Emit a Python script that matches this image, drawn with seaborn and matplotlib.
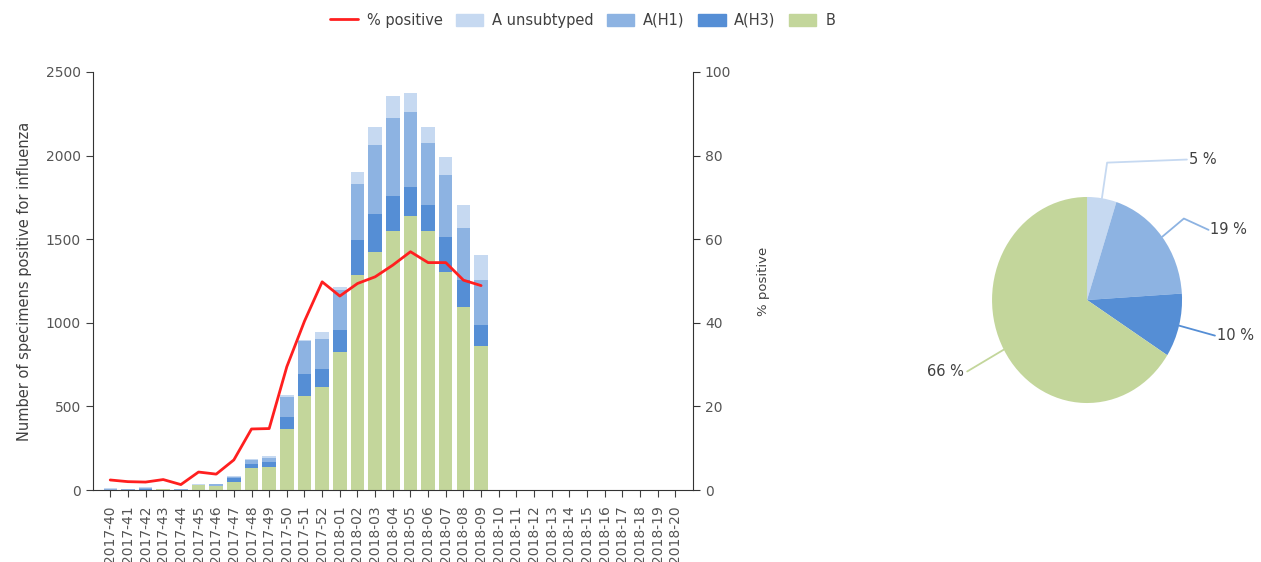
import matplotlib.pyplot as plt
import numpy as np
import pandas as pd
import seaborn as sns
from matplotlib.lines import Line2D
from matplotlib.patches import Patch

# surveillance weeks shown on the axis
weeks = [f"2017-{w}" for w in range(40, 53)] + [f"2018-{w:02d}" for w in range(1, 21)]

# positive specimens per week (only weeks up to 2018-09 reported)
b_vals = [0, 0, 0, 4, 0, 28, 22, 50, 130, 135, 365, 565, 617, 825, 1287, 1423, 1549, 1640, 1549, 1303, 1093, 860]
h3_vals = [3, 2, 8, 0, 3, 0, 3, 20, 25, 30, 70, 130, 106, 130, 210, 226, 210, 174, 154, 210, 160, 128]
h1_vals = [5, 3, 6, 0, 2, 4, 10, 10, 25, 25, 120, 195, 180, 240, 336, 413, 463, 445, 373, 370, 316, 266]
unsub_vals = [2, 2, 3, 5, 2, 5, 0, 5, 8, 12, 15, 10, 40, 22, 70, 110, 134, 114, 96, 109, 134, 154]
pct_pos = [2.4, 2.0, 1.9, 2.5, 1.3, 4.3, 3.8, 7.2, 14.6, 14.7, 29.5, 40.4, 49.8, 46.4, 49.4, 51.0,
           53.8, 57.0, 54.4, 54.4, 50.2, 48.9]

# season share by type (pie)
pie_labels = ["A unsubtyped", "A(H1)", "A(H3)", "B"]
pie_share = [5, 19, 10, 66]

c_unsub = "#c6d9f1"
c_h1 = "#8db3e2"
c_h3 = "#558ed5"
c_b = "#c3d69b"
c_line = "#ff1f1f"
c_text = "#404040"

sns.set_style("ticks")
plt.rcParams["font.family"] = ["DejaVu Sans"]

n = len(b_vals)
df = pd.DataFrame({"week": weeks[:n], "b": b_vals, "h3": h3_vals, "h1": h1_vals, "unsub": unsub_vals})
df["c_h3"] = df["b"] + df["h3"]
df["c_h1"] = df["c_h3"] + df["h1"]
df["c_all"] = df["c_h1"] + df["unsub"]

fig = plt.figure(figsize=(12.61, 5.62), dpi=100)
ax = fig.add_axes([0.0734, 0.1281, 0.4762, 0.7438])

# stacked bars drawn as overlapping cumulative totals
for col, color in [("c_all", c_unsub), ("c_h1", c_h1), ("c_h3", c_h3), ("b", c_b)]:
    sns.barplot(data=df, x="week", y=col, order=weeks, color=color, saturation=1,
                width=0.76, linewidth=0, errorbar=None, ax=ax)

ax.set_xlim(-1, len(weeks))
ax.set_ylim(0, 2500)
ax.set_yticks([0, 500, 1000, 1500, 2000, 2500])
ax.set_xlabel("")
ax.set_ylabel("Number of specimens positive for influenza", fontsize=10.5, color=c_text, labelpad=10)
ax.tick_params(axis="x", rotation=90, labelsize=10, colors=c_text, length=5, pad=6)
ax.tick_params(axis="y", labelsize=10, colors=c_text, length=5)
for lab in ax.get_xticklabels() + ax.get_yticklabels():
    lab.set_color("#555555")
sns.despine(ax=ax, top=True, right=True)
for s in ["left", "bottom"]:
    ax.spines[s].set_color("#333333")

ax2 = ax.twinx()
sns.lineplot(x=np.arange(n), y=pct_pos, color=c_line, linewidth=2, ax=ax2)
ax2.set_ylim(0, 100)
ax2.set_yticks([0, 20, 40, 60, 80, 100])
ax2.tick_params(axis="y", labelsize=10, length=5, colors="#333333")
for lab in ax2.get_yticklabels():
    lab.set_color("#555555")
for s in ["top", "left", "bottom"]:
    ax2.spines[s].set_visible(False)
ax2.spines["right"].set_color("#333333")
ax2.set_ylabel("")
fig.text(763 / 1261, 1 - 281 / 562, "% positive", rotation=90, ha="center", va="center",
         fontsize=9.5, color=c_text)

# legend across the top
handles = [Line2D([0], [0], color=c_line, linewidth=2),
           Patch(color=c_unsub), Patch(color=c_h1), Patch(color=c_h3), Patch(color=c_b)]
fig.legend(handles, ["% positive"] + pie_labels, loc="center", bbox_to_anchor=(0.462, 0.964),
           ncol=5, frameon=False, fontsize=10.5, handlelength=1.9, handleheight=0.9,
           handletextpad=0.6, columnspacing=0.9, labelcolor=c_text)

# pie chart of season totals
pax = fig.add_axes([0.7431, 0.1993, 0.2379, 0.5338])
wedges, _ = pax.pie(pie_share, colors=[c_unsub, c_h1, c_h3, c_b], startangle=90,
                    counterclock=False, wedgeprops={"linewidth": 0})
pax.set_aspect("auto")
pax.set_xlim(-1.579, 1.579)
pax.set_ylim(-1.456, 1.456)

# leader lines: elbow radius and horizontal run per label
leader = [(1.35, 0.84, 0.03), (1.29, 0.26, -0.11), (1.39, 0.0, 0.0), (1.44, 0.0, 0.0)]
line_cols = [c_unsub, c_h1, c_h3, c_b]
for w, share, (r1, dx, dy), lc in zip(wedges, pie_share, leader, line_cols):
    th = np.deg2rad((w.theta1 + w.theta2) / 2)
    x0, y0 = np.cos(th), np.sin(th)
    xe, ye = r1 * x0, r1 * y0
    xs, ys = xe + dx, ye + dy
    pax.plot([x0, xe, xs], [y0, ye, ys], color=lc, linewidth=1.3, clip_on=False)
    right = xs > 0
    pax.text(xs + (0.02 if right else -0.03), ys, f"{share} %", ha="left" if right else "right",
             va="center", fontsize=10.5, color=c_text)

fig.savefig("out.png", dpi=100)
